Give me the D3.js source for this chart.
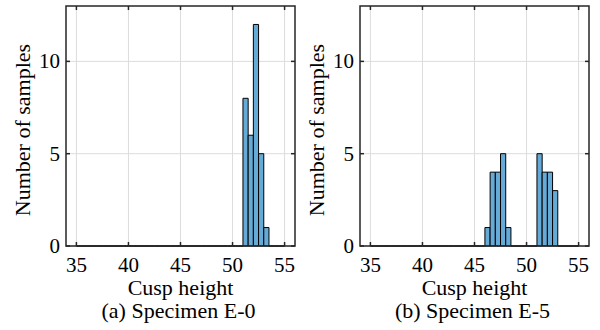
<!DOCTYPE html>
<html>
<head>
<meta charset="utf-8">
<script src="https://cdn.jsdelivr.net/npm/d3@7"></script>
<style>
  body { margin: 0; background: #fff; }
  text { font-family: "Liberation Serif", "Times New Roman", serif; fill: #000; }
</style>
</head>
<body>
<svg id="chart" width="600" height="330"></svg>
<script>
// histogram bins: 0.5 wide, from 35 to 55
var binStart = 35, binEnd = 55, binWidth = 0.5;
var xTicks = [35, 40, 45, 50, 55];
var yTicks = [0, 5, 10];

// non-empty bins (left edge -> count)
var e0Edges  = [51, 51.5, 52, 52.5, 53];
var e0Counts = [8, 6, 12, 5, 1];
var e5Edges  = [46, 46.5, 47, 47.5, 48, 51, 51.5, 52, 52.5];
var e5Counts = [1, 4, 4, 5, 1, 5, 4, 4, 3];

var captions = ["(a) Specimen E-0", "(b) Specimen E-5"];

var svg = d3.select("#chart");

// panel positions
var panels = [
  { left: 66,  edges: e0Edges, counts: e0Counts, caption: captions[0] },
  { left: 360, edges: e5Edges, counts: e5Counts, caption: captions[1] }
];
var plotTop = 6, h = 240, w = 229;

panels.forEach(function (p) {
  var g = svg.append("g").attr("transform", "translate(" + p.left + "," + plotTop + ")");

  var x = d3.scaleLinear().domain([34, 56]).range([0, w]);
  var y = d3.scaleLinear().domain([0, 13]).range([h, 0]);

  // grid
  g.selectAll(".gx").data(xTicks).enter().append("line").attr("class", "gx")
    .attr("x1", d => x(d)).attr("x2", d => x(d))
    .attr("y1", 0).attr("y2", h)
    .attr("stroke", "#dcdcdc").attr("stroke-width", 1);
  g.selectAll(".gy").data(yTicks).enter().append("line").attr("class", "gy")
    .attr("x1", 0).attr("x2", w)
    .attr("y1", d => y(d)).attr("y2", d => y(d))
    .attr("stroke", "#dcdcdc").attr("stroke-width", 1);

  // all bins, empty ones draw as a flat line
  var bins = d3.range(binStart, binEnd, binWidth).map(function (b) {
    var i = p.edges.indexOf(b);
    return { x0: b, n: i < 0 ? 0 : p.counts[i] };
  });

  g.selectAll(".bar").data(bins).enter().append("path").attr("class", "bar")
    .attr("d", function (d) {
      var x0 = x(d.x0), x1 = x(d.x0 + binWidth), y0 = y(0), y1 = y(d.n);
      return "M" + x0 + "," + y0 + "V" + y1 + "H" + x1 + "V" + y0 + "Z";
    })
    .attr("fill", "#66aad7")
    .attr("stroke", "#000")
    .attr("stroke-width", 1);

  // box
  g.append("rect").attr("width", w).attr("height", h)
    .attr("fill", "none").attr("stroke", "#262626").attr("stroke-width", 1.5);

  // inward ticks on all four sides
  var tl = 4;
  xTicks.forEach(function (t) {
    g.append("line").attr("x1", x(t)).attr("x2", x(t)).attr("y1", h).attr("y2", h - tl)
      .attr("stroke", "#262626").attr("stroke-width", 1.5);
    g.append("line").attr("x1", x(t)).attr("x2", x(t)).attr("y1", 0).attr("y2", tl)
      .attr("stroke", "#262626").attr("stroke-width", 1.5);
  });
  yTicks.forEach(function (t) {
    g.append("line").attr("x1", 0).attr("x2", tl).attr("y1", y(t)).attr("y2", y(t))
      .attr("stroke", "#262626").attr("stroke-width", 1.5);
    g.append("line").attr("x1", w).attr("x2", w - tl).attr("y1", y(t)).attr("y2", y(t))
      .attr("stroke", "#262626").attr("stroke-width", 1.5);
  });

  // tick labels
  g.selectAll(".xl").data(xTicks).enter().append("text").attr("class", "xl")
    .attr("x", d => x(d)).attr("y", h + 26)
    .attr("text-anchor", "middle").style("font-size", "21px")
    .text(d => d);
  g.selectAll(".yl").data(yTicks).enter().append("text").attr("class", "yl")
    .attr("x", -6).attr("y", d => y(d) + 7)
    .attr("text-anchor", "end").style("font-size", "21px")
    .text(d => d);

  // axis titles
  g.append("text").attr("x", w / 2).attr("y", h + 49)
    .attr("text-anchor", "middle").style("font-size", "22px").text("Cusp height");
  g.append("text").attr("transform", "translate(-36," + (h / 2 + 4) + ") rotate(-90)")
    .attr("text-anchor", "middle").style("font-size", "22px").text("Number of samples");

  g.append("text").attr("x", w / 2 - 2).attr("y", h + 72)
    .attr("text-anchor", "middle").style("font-size", "22px").text(p.caption);
});
</script>
</body>
</html>
